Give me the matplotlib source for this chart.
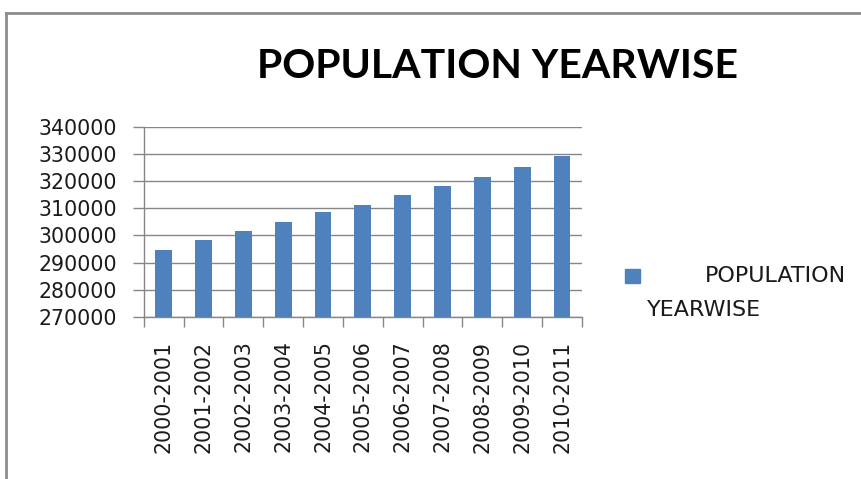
import matplotlib
matplotlib.use("Agg")
import matplotlib.pyplot as plt
import numpy as np
from matplotlib.lines import Line2D
from matplotlib.patches import Rectangle

# Data
years = ["2000-2001", "2001-2002", "2002-2003", "2003-2004", "2004-2005",
         "2005-2006", "2006-2007", "2007-2008", "2008-2009", "2009-2010",
         "2010-2011"]
population = [294500, 298300, 301600, 304900, 308700, 311050,
              314850, 318200, 321500, 325150, 329400]
y_ticks = [270000, 280000, 290000, 300000, 310000, 320000, 330000, 340000]

bar_color = "#4F81BD"
grid_color = "#868686"
text_color = "#1a1a1a"

fig = plt.figure(figsize=(8.62, 4.79), dpi=100)
fig.patch.set_facecolor("white")

ax = fig.add_axes([0.1667, 0.3382, 0.5085, 0.3973])
x = np.arange(len(years))
ax.bar(x, population, width=0.42, color=bar_color, zorder=3)

ax.set_xlim(-0.5, len(years) - 0.5)
ax.set_ylim(y_ticks[0], y_ticks[-1])
ax.set_yticks(y_ticks)
ax.set_yticklabels([str(v) for v in y_ticks])
ax.yaxis.grid(True, color=grid_color, linewidth=1.0, zorder=0)

# category labels at centres, tick marks at the boundaries
ax.set_xticks(x)
ax.set_xticklabels(years, rotation=90)
ax.set_xticks(np.arange(len(years) + 1) - 0.5, minor=True)
ax.tick_params(axis="x", which="major", length=0, pad=17,
               labelsize=14.8, labelcolor=text_color)
ax.tick_params(axis="x", which="minor", length=7, width=1.0, color=grid_color)
ax.tick_params(axis="y", length=8, width=1.0, color=grid_color, pad=11,
               labelsize=14.8, labelcolor=text_color)

for side in ("top", "right"):
    ax.spines[side].set_visible(False)
for side in ("left", "bottom"):
    ax.spines[side].set_color(grid_color)
    ax.spines[side].set_linewidth(1.0)

# Title
fig.text(0.577, 0.862, "POPULATION YEARWISE", ha="center", va="center",
         fontsize=29.5, fontweight="bold", family="Lato", color="black")

# Legend entry
W, H = 862, 479
fig.patches.append(Rectangle((625 / W, 1 - 283 / H), 15 / W, 14 / H,
                             transform=fig.transFigure, color=bar_color))
fig.text(705 / W, 1 - 276 / H, "POPULATION", ha="left", va="center",
         fontsize=16, color=text_color)
fig.text(647 / W, 1 - 310 / H, "YEARWISE", ha="left", va="center",
         fontsize=16, color=text_color)

# Chart frame
frame_kw = dict(transform=fig.transFigure, color="#8c8c8c", linewidth=2.0)
fig.lines.append(Line2D([6 / W, 1.0], [1 - 13 / H, 1 - 13 / H], **frame_kw))
fig.lines.append(Line2D([6 / W, 6 / W], [0.0, 1 - 13 / H], **frame_kw))

fig.savefig("out.png", dpi=100)
